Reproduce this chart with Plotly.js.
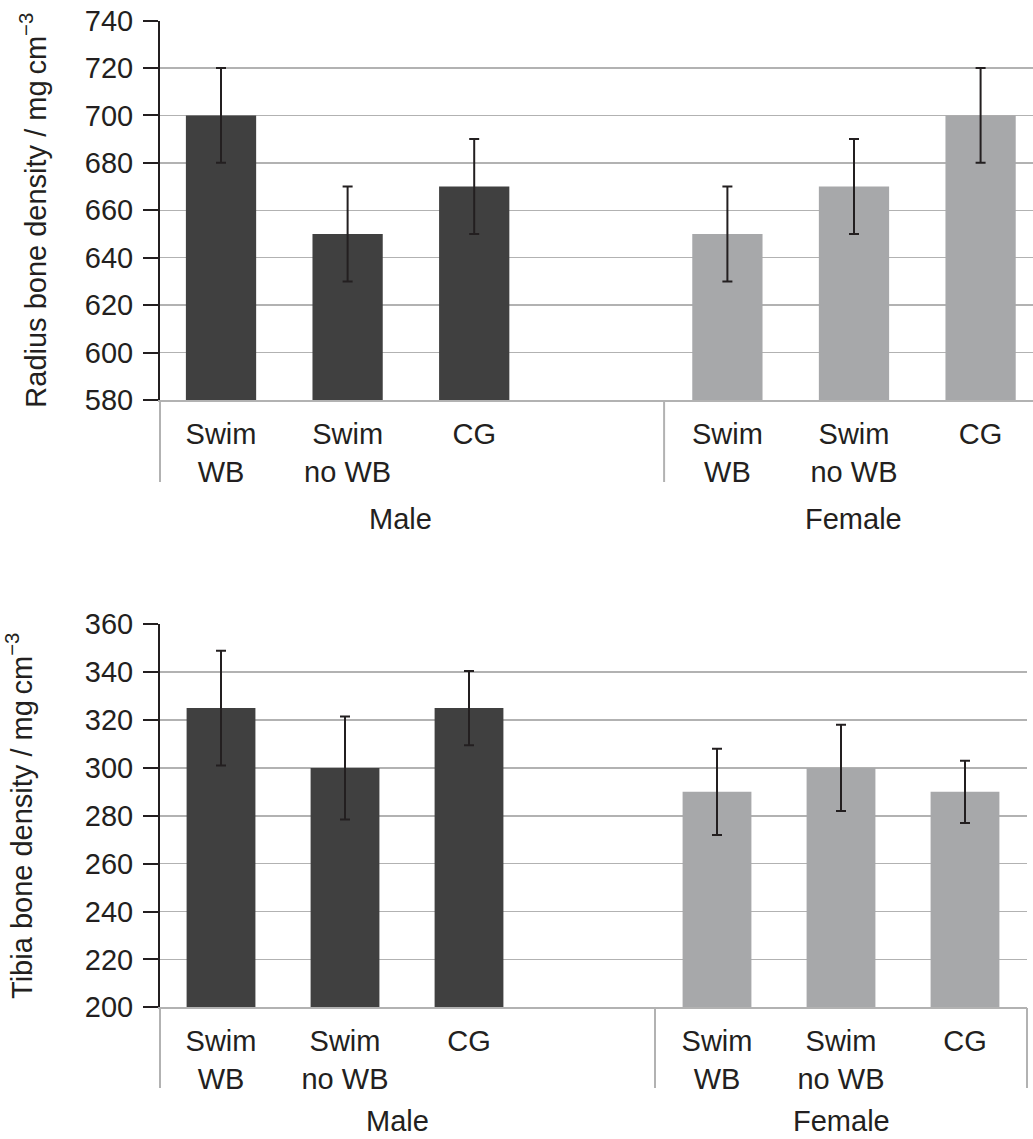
<!DOCTYPE html>
<html>
<head>
<meta charset="utf-8">
<script src="https://cdn.plot.ly/plotly-3.0.1.min.js"></script>
<style>html,body{margin:0;padding:0;background:#fff;overflow:hidden}</style>
</head>
<body>
<div id="chart" style="width:1033px;height:1139px"></div>
<script>
// ---- data ----
const groups = ['Male', 'Female'];
const treatments = ['Swim WB', 'Swim no WB', 'CG'];
const treatmentLabels = ['Swim<br>WB', 'Swim<br>no WB', 'CG'];

const radiusMale = [700, 650, 670];
const radiusMaleErr = [20, 20, 20];
const radiusFemale = [650, 670, 700];
const radiusFemaleErr = [20, 20, 20];

const tibiaMale = [325, 300, 325];
const tibiaMaleErr = [24, 21.5, 15.5];
const tibiaFemale = [290, 300, 290];
const tibiaFemaleErr = [18, 18, 13];

const radiusTitle = 'Radius bone density / mg\u2009cm<sup>\u22123</sup>';
const tibiaTitle = 'Tibia bone density / mg\u2009cm<sup>\u22123</sup>';

// ---- layout helpers ----
const W = 1033, H = 1139;
const FONT = 'Liberation Sans, Arial, Helvetica, sans-serif';
const FS = 29;
const INK = '#231f20';
const GRID = '#b2b2b2';
const colMale = '#404040';
const colFemale = '#a7a8aa';

// slot index of each bar: group g, treatment t -> g*(treatments.length+1)+t
function slots(g) { return treatments.map((_, t) => g * (treatments.length + 1) + t); }
const tickVals = [].concat(slots(0), slots(1));
const tickText = [].concat(treatmentLabels, treatmentLabels);

const panelTop = {xd: [160 / W, 1], yd: [1 - 400 / H, 1 - 20.5 / H], xr: [-0.482, 6.414], yr: [580, 740]};
const panelBot = {xd: [160 / W, 1027 / W], yd: [1 - 1007.3 / H, 1 - 624.3 / H], xr: [-0.492, 6.5], yr: [200, 360]};

function xToPaper(p, v) { return p.xd[0] + (v - p.xr[0]) / (p.xr[1] - p.xr[0]) * (p.xd[1] - p.xd[0]); }

function barTrace(xa, ya, g, vals, errs, color) {
  return {
    type: 'bar', x: slots(g), y: vals, xaxis: xa, yaxis: ya,
    width: 0.555, marker: {color: color, line: {width: 0}},
    error_y: {type: 'data', array: errs, visible: true, color: INK, thickness: 2, width: 5},
    hoverinfo: 'skip', showlegend: false
  };
}

const data = [
  barTrace('x', 'y', 0, radiusMale, radiusMaleErr, colMale),
  barTrace('x', 'y', 1, radiusFemale, radiusFemaleErr, colFemale),
  barTrace('x2', 'y2', 0, tibiaMale, tibiaMaleErr, colMale),
  barTrace('x2', 'y2', 1, tibiaFemale, tibiaFemaleErr, colFemale)
];

function xAxis(p, anchor) {
  return {
    domain: p.xd, range: p.xr, anchor: anchor, type: 'linear',
    tickmode: 'array', tickvals: tickVals, ticktext: tickText,
    ticks: '', showgrid: false, zeroline: false,
    showline: true, linecolor: GRID, linewidth: 2,
    tickfont: {family: FONT, size: FS, color: INK},
    ticklabelstandoff: 7, fixedrange: true
  };
}
function yAxis(p, anchor, title, standoff) {
  return {
    domain: p.yd, range: p.yr, anchor: anchor, dtick: 20, tick0: 0,
    ticks: 'outside', ticklen: 15, tickwidth: 2, tickcolor: INK,
    showline: true, linecolor: INK, linewidth: 2,
    showgrid: true, gridcolor: GRID, gridwidth: 1.5, zeroline: false,
    tickfont: {family: FONT, size: FS, color: INK},
    ticklabelstandoff: 4,
    title: {text: title, font: {family: FONT, size: FS, color: INK}, standoff: standoff},
    fixedrange: true
  };
}

function divider(p, xv, y0px, y1px) {
  const xp = xv === null ? p.xd[0] : xToPaper(p, xv);
  return {type: 'line', xref: 'paper', yref: 'paper', x0: xp, x1: xp,
          y0: 1 - y0px / H, y1: 1 - y1px / H, line: {color: GRID, width: 2}};
}

const shapes = [
  divider(panelTop, null, 401, 482), divider(panelTop, 3.5, 401, 482),
  divider(panelBot, null, 1008, 1088), divider(panelBot, 3.5, 1008, 1088), divider(panelBot, 6.5, 1008, 1088)
];

function groupLabel(xa, x, ypx, text) {
  return {xref: xa, yref: 'paper', x: x, y: 1 - ypx / H, text: text, showarrow: false,
          xanchor: 'center', yanchor: 'middle', font: {family: FONT, size: FS, color: INK}};
}
const annotations = [
  groupLabel('x', 1.42, 519, groups[0]), groupLabel('x', 5.0, 519, groups[1]),
  groupLabel('x2', 1.42, 1121, groups[0]), groupLabel('x2', 5.0, 1121, groups[1])
];

const layout = {
  width: W, height: H, margin: {l: 0, r: 0, t: 0, b: 0},
  paper_bgcolor: '#fff', plot_bgcolor: '#fff',
  font: {family: FONT, color: INK},
  xaxis: xAxis(panelTop, 'y'), yaxis: yAxis(panelTop, 'x', radiusTitle, 30),
  xaxis2: xAxis(panelBot, 'y2'), yaxis2: yAxis(panelBot, 'x2', tibiaTitle, 44),
  shapes: shapes, annotations: annotations, showlegend: false
};

Plotly.newPlot('chart', data, layout, {displayModeBar: false, staticPlot: true});
</script>
</body>
</html>
